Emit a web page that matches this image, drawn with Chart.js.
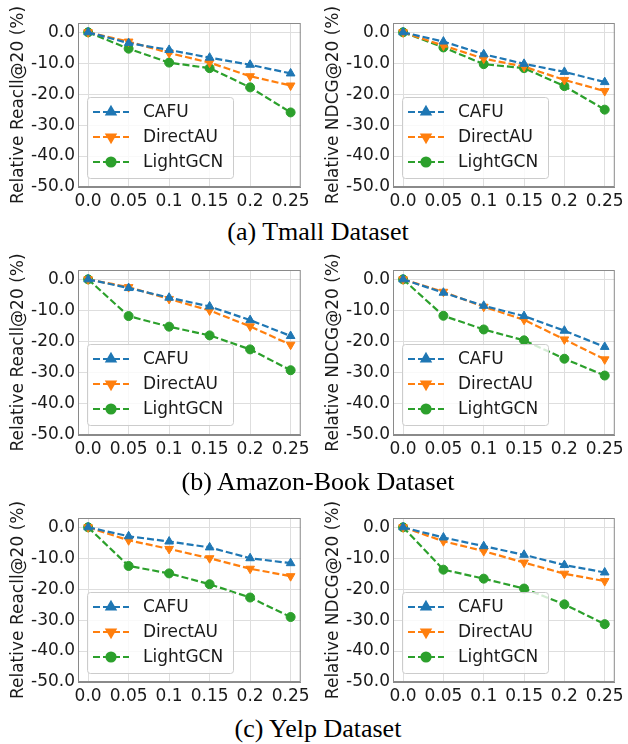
<!DOCTYPE html>
<html>
<head>
<meta charset="utf-8">
<script src="https://cdn.jsdelivr.net/npm/chart.js@4.4.1/dist/chart.umd.min.js"></script>
<style>
  html, body { margin: 0; padding: 0; background: #ffffff; }
  body { width: 628px; height: 744px; position: relative; overflow: hidden; }
  canvas { position: absolute; }
  .cap { position: absolute; left: 0; width: 636px; text-align: center; line-height: 30px; height: 30px;
         font-family: "Liberation Serif", "Times New Roman", serif; font-size: 26px; color: #000; }
</style>
</head>
<body>
<canvas id="c0" width="314" height="215" style="left:0px;top:0px"></canvas>
<canvas id="c1" width="313" height="215" style="left:315px;top:0px"></canvas>
<canvas id="c2" width="314" height="216" style="left:0px;top:247px"></canvas>
<canvas id="c3" width="313" height="216" style="left:315px;top:247px"></canvas>
<canvas id="c4" width="314" height="215" style="left:0px;top:495px"></canvas>
<canvas id="c5" width="313" height="215" style="left:315px;top:495px"></canvas>
<div class="cap" style="top:217px">(a) Tmall Dataset</div>
<div class="cap" style="top:467px">(b) Amazon-Book Dataset</div>
<div class="cap" style="top:714px">(c) Yelp Dataset</div>
<script>
// ---- data ----
const xValues = [0, 0.05, 0.1, 0.15, 0.2, 0.25];
const xTickLabels = ['0.0', '0.05', '0.1', '0.15', '0.2', '0.25'];
const yTicks = [0, -10, -20, -30, -40, -50];
const seriesNames = ['CAFU', 'DirectAU', 'LightGCN'];

const tmallRecallCAFU     = [0, -3.5, -5.7, -8.2, -10.5, -13.3];
const tmallRecallDirectAU = [0, -3.0, -6.7, -9.8, -14.2, -17.2];
const tmallRecallLightGCN = [0, -5.3, -9.8, -11.6, -17.8, -25.9];

const tmallNdcgCAFU     = [0, -3.0, -7.1, -10.2, -12.8, -16.1];
const tmallNdcgDirectAU = [0, -4.3, -8.5, -11.1, -15.4, -19.0];
const tmallNdcgLightGCN = [0, -4.9, -10.3, -11.6, -17.4, -25.0];

const amazonRecallCAFU     = [0, -2.8, -5.9, -8.7, -13.1, -18.2];
const amazonRecallDirectAU = [0, -2.5, -6.3, -10.0, -15.1, -21.0];
const amazonRecallLightGCN = [0, -11.8, -15.2, -18.0, -22.5, -29.2];

const amazonNdcgCAFU     = [0, -4.3, -8.5, -11.8, -16.5, -21.7];
const amazonNdcgDirectAU = [0, -4.0, -8.8, -13.0, -19.3, -25.7];
const amazonNdcgLightGCN = [0, -11.7, -16.1, -19.6, -25.5, -30.9];

const yelpRecallCAFU     = [0, -2.9, -4.6, -6.5, -10.0, -11.6];
const yelpRecallDirectAU = [0, -4.2, -7.0, -10.0, -13.4, -15.8];
const yelpRecallLightGCN = [0, -12.5, -14.9, -18.4, -22.7, -29.0];

const yelpNdcgCAFU     = [0, -3.3, -6.1, -8.9, -12.2, -14.6];
const yelpNdcgDirectAU = [0, -4.5, -7.7, -11.4, -15.0, -17.4];
const yelpNdcgLightGCN = [0, -13.7, -16.6, -19.8, -24.9, -31.3];

const yTitles = ['Relative Reacll@20 (%)', 'Relative NDCG@20 (%)'];

// ---- styles ----
const colors = ['#1f77b4', '#ff7f0e', '#2ca02c'];
const pStyles = ['triangle', 'triangle', 'circle'];
const pRot = [0, 180, 0];
const pRad = [5, 5, 4.5];
const FONT = '"DejaVu Sans", Verdana, sans-serif';
const FS = 17;

const framePlugin = {
  id: 'frame',
  afterDraw(chart) {
    const {ctx, chartArea: a} = chart;
    ctx.save();
    ctx.strokeStyle = '#8a8a8a';
    ctx.lineWidth = 1;
    ctx.strokeRect(a.left + 0.5, a.top + 0.5, a.right - a.left - 1, a.bottom - a.top - 1);
    ctx.restore();
  }
};

function roundRect(ctx, x, y, w, h, r) {
  ctx.beginPath();
  ctx.moveTo(x + r, y);
  ctx.lineTo(x + w - r, y);
  ctx.quadraticCurveTo(x + w, y, x + w, y + r);
  ctx.lineTo(x + w, y + h - r);
  ctx.quadraticCurveTo(x + w, y + h, x + w - r, y + h);
  ctx.lineTo(x + r, y + h);
  ctx.quadraticCurveTo(x, y + h, x, y + h - r);
  ctx.lineTo(x, y + r);
  ctx.quadraticCurveTo(x, y, x + r, y);
  ctx.closePath();
}

const legendPlugin = {
  id: 'innerLegend',
  afterDraw(chart) {
    const {ctx, chartArea: a} = chart;
    const bx = a.left + 9, by = a.top + 74, bw = 146, bh = 81;
    ctx.save();
    roundRect(ctx, bx + 0.5, by + 0.5, bw, bh, 3);
    ctx.fillStyle = 'rgba(255,255,255,0.8)';
    ctx.fill();
    ctx.strokeStyle = '#cccccc';
    ctx.lineWidth = 1;
    ctx.stroke();
    chart.data.datasets.forEach((ds, i) => {
      const y = by + 15 + i * 25;
      ctx.strokeStyle = ds.borderColor;
      ctx.lineWidth = ds.borderWidth;
      ctx.setLineDash(ds.borderDash);
      ctx.beginPath();
      ctx.moveTo(bx + 6, y);
      ctx.lineTo(bx + 42, y);
      ctx.stroke();
      ctx.setLineDash([]);
      ctx.fillStyle = ds.backgroundColor;
      Chart.helpers.drawPoint(ctx, {pointStyle: ds.pointStyle, rotation: ds.pointRotation, radius: ds.pointRadius, borderWidth: 1}, bx + 24, y);
      ctx.fillStyle = '#1a1a1a';
      ctx.font = FS + 'px ' + FONT;
      ctx.textBaseline = 'middle';
      ctx.textAlign = 'left';
      ctx.fillText(ds.label, bx + 56, y + 1);
    });
    ctx.restore();
  }
};

function makeChart(id, title, series, rightPad) {
  const datasets = series.map((vals, i) => ({
    label: seriesNames[i],
    data: xValues.map((x, k) => ({x: x, y: vals[k]})),
    borderColor: colors[i],
    backgroundColor: colors[i],
    borderWidth: 2.2,
    borderDash: [7, 3],
    pointStyle: pStyles[i],
    pointRotation: pRot[i],
    pointRadius: pRad[i],
    pointBorderWidth: 1,
    fill: false,
    tension: 0
  }));
  new Chart(document.getElementById(id), {
    type: 'line',
    data: {datasets},
    plugins: [framePlugin, legendPlugin],
    options: {
      responsive: false,
      animation: false,
      layout: {padding: {top: 23, right: rightPad, left: 0, bottom: 0}},
      plugins: {legend: {display: false}, tooltip: {enabled: false}},
      scales: {
        x: {
          type: 'linear', min: -0.0125, max: 0.2625,
          afterBuildTicks: s => { s.ticks = xValues.map(v => ({value: v})); },
          afterFit: s => { s.height = 28; },
          ticks: {
            autoSkip: false, maxRotation: 0, padding: 4,
            font: {family: FONT, size: FS}, color: '#1a1a1a',
            callback: v => xTickLabels[xValues.indexOf(v)]
          },
          grid: {color: '#dedede', drawTicks: false},
          border: {color: '#8a8a8a'}
        },
        y: {
          min: -50, max: 3,
          afterBuildTicks: s => { s.ticks = yTicks.map(v => ({value: v})); },
          afterFit: s => { s.width = 78; },
          ticks: {
            autoSkip: false, padding: 3,
            font: {family: FONT, size: FS}, color: '#1a1a1a',
            callback: v => (Math.abs(v) < 1e-9 ? 0 : v).toFixed(1)
          },
          title: {display: true, text: title, font: {family: FONT, size: FS}, color: '#1a1a1a', padding: {top: 8, bottom: 0}},
          grid: {color: '#dedede', drawTicks: false},
          border: {color: '#8a8a8a'}
        }
      }
    }
  });
}

makeChart('c0', yTitles[0], [tmallRecallCAFU, tmallRecallDirectAU, tmallRecallLightGCN], 10);
makeChart('c1', yTitles[1], [tmallNdcgCAFU, tmallNdcgDirectAU, tmallNdcgLightGCN], 8);
makeChart('c2', yTitles[0], [amazonRecallCAFU, amazonRecallDirectAU, amazonRecallLightGCN], 10);
makeChart('c3', yTitles[1], [amazonNdcgCAFU, amazonNdcgDirectAU, amazonNdcgLightGCN], 8);
makeChart('c4', yTitles[0], [yelpRecallCAFU, yelpRecallDirectAU, yelpRecallLightGCN], 10);
makeChart('c5', yTitles[1], [yelpNdcgCAFU, yelpNdcgDirectAU, yelpNdcgLightGCN], 8);
</script>
</body>
</html>
